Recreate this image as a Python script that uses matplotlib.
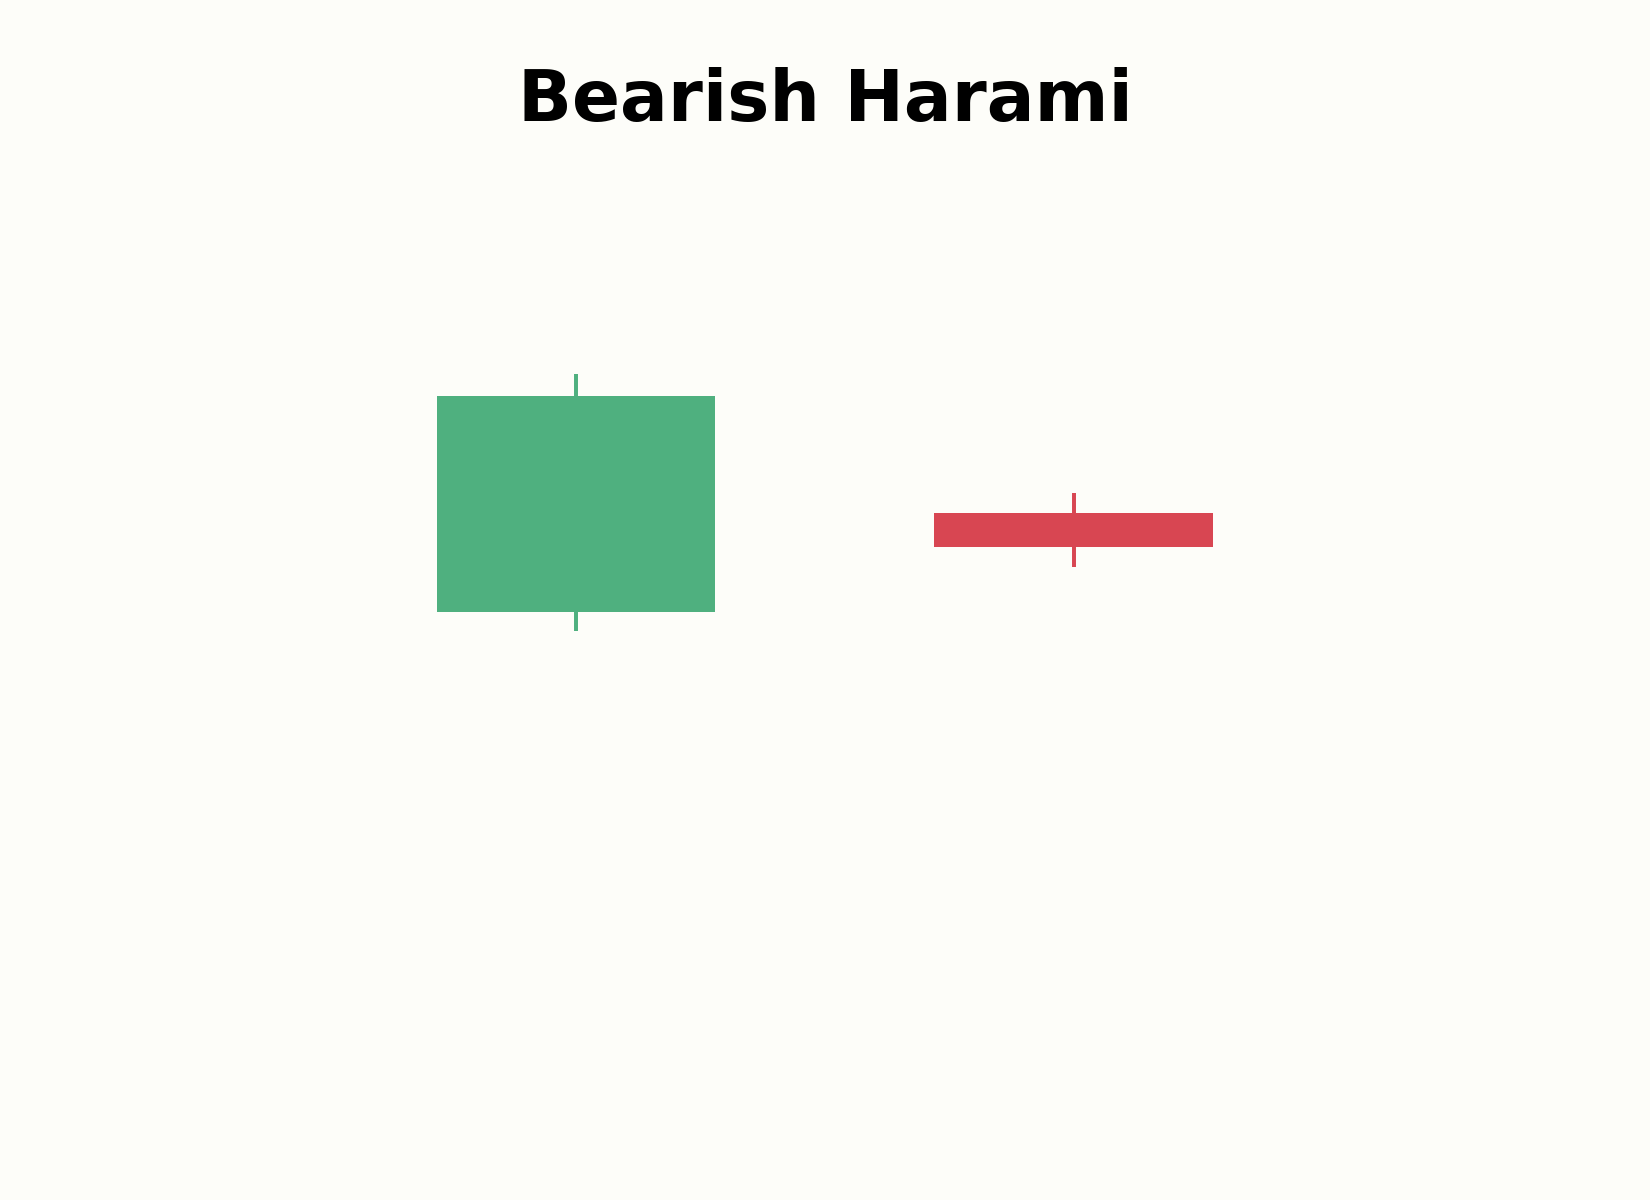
from matplotlib import pyplot as plt

days = [0, 1]
opens = [100.0, 104.6]
closes = [110.0, 103.0]
highs = [111.0, 105.5]
lows = [99.1, 102.1]
colors = ["#4fb07f", "#d84652"]
bg = "#fdfdf9"

fig = plt.figure(figsize=(11, 8), dpi=150, facecolor=bg)
ax = fig.add_axes([0, 0, 1, 1])
ax.set_facecolor(bg)

for i in range(len(days)):
	bottom = min(opens[i], closes[i])
	height = abs(closes[i] - opens[i])
	ax.vlines(days[i], lows[i], highs[i], color=colors[i], linewidth=1.9, zorder=1)
	ax.bar(days[i], height, bottom=bottom, width=0.56, color=colors[i], zorder=2)

ax.set_xlim(-1.157, 2.158)
ax.set_ylim(72.78, 128.33)
ax.axis("off")

fig.text(0.5, 1 - 121 / 1200, "Bearish Harami", ha="center", va="baseline",
	fontsize=34, fontweight="bold", color="black")

plt.savefig("out.png", dpi=150, facecolor=bg)
